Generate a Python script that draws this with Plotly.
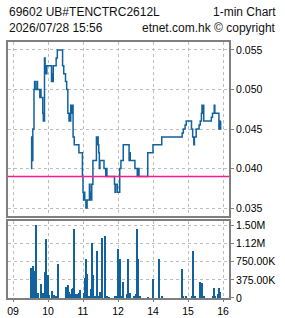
import plotly.graph_objects as go

DATE = "2026-07-28"
TITLE_LEFT = "69602 UB#TENCTRC2612L"
TITLE_RIGHT = "1-min Chart"
STAMP = "2026/07/28 15:56"
COPY = "etnet.com.hk © copyright"

price_times = [
    "09:31", "09:32", "09:33", "09:34", "09:36", "09:37", "09:38", "09:41", "09:42", "09:46",
    "09:47", "09:48", "09:51", "09:52", "09:54", "09:55", "09:56", "09:57", "09:58", "10:06",
    "10:07", "10:08", "10:09", "10:14", "10:16", "10:25", "10:27", "10:30", "10:32", "10:34",
    "10:36", "10:37", "10:38", "10:39", "10:41", "10:42", "10:43", "10:45", "10:53", "10:59",
    "11:00", "11:01", "11:02", "11:03", "11:05", "11:07", "11:11", "11:12", "11:13", "11:14",
    "11:15", "11:17", "11:23", "11:24", "11:25", "11:26", "11:27", "11:28", "11:29", "11:36",
    "11:39", "11:40", "11:41", "11:54", "11:55", "11:56", "11:59",
    "13:03", "13:05", "13:09", "13:19", "13:20", "13:21", "13:29", "13:33", "13:34", "13:36",
    "13:51", "14:00", "14:15", "14:50", "14:52", "14:55", "14:57", "15:06", "15:08", "15:10",
    "15:11", "15:14", "15:19", "15:21", "15:23", "15:24", "15:25", "15:26", "15:27", "15:40",
    "15:42", "15:45", "15:46", "15:53", "15:54", "15:55", "15:56",
]
price_values = [
    0.040, 0.044, 0.041, 0.045, 0.050, 0.051, 0.050, 0.051, 0.050, 0.049,
    0.050, 0.049, 0.047, 0.046, 0.054, 0.052, 0.053, 0.052, 0.053, 0.051,
    0.052, 0.051, 0.053, 0.054, 0.055, 0.053, 0.052, 0.051, 0.050, 0.047,
    0.046, 0.047, 0.046, 0.048, 0.047, 0.048, 0.044, 0.043, 0.042, 0.039,
    0.037, 0.036, 0.037, 0.036, 0.035, 0.036, 0.038, 0.036, 0.037, 0.036,
    0.038, 0.041, 0.044, 0.043, 0.044, 0.043, 0.042, 0.040, 0.041, 0.040,
    0.039, 0.040, 0.039, 0.038, 0.037, 0.038, 0.037,
    0.040, 0.041, 0.043, 0.041, 0.042, 0.041, 0.040, 0.039, 0.040, 0.039,
    0.042, 0.043, 0.044, 0.0445, 0.045, 0.0455, 0.046, 0.045, 0.044, 0.043,
    0.044, 0.045, 0.0455, 0.046, 0.047, 0.048, 0.047, 0.048, 0.046, 0.0465,
    0.047, 0.048, 0.047, 0.045, 0.046, 0.045, 0.046,
]

vol_times = [
    "09:31", "09:33", "09:34", "09:36", "09:38", "09:40", "09:42", "09:43", "09:48", "09:52",
    "09:55", "09:57", "09:58", "10:00", "10:02", "10:07", "10:11", "10:13", "10:15", "10:18",
    "10:31", "10:35", "10:37", "10:39", "10:41", "10:43", "10:45", "10:48", "10:51", "10:54",
    "10:55", "11:02", "11:04", "11:05", "11:07", "11:09", "11:12", "11:14", "11:16", "11:18",
    "11:21", "11:24", "11:26", "11:29", "11:33", "11:38", "11:42", "11:45", "11:55", "11:58",
    "13:01", "13:04", "13:06", "13:09", "13:15", "13:17", "13:19", "13:21", "13:28", "13:31",
    "13:33", "13:35", "13:38", "13:52", "14:00", "14:11", "14:16", "14:50", "14:52", "14:57",
    "15:07", "15:09", "15:11", "15:13", "15:21", "15:24", "15:27", "15:43", "15:45", "15:47",
    "15:52", "15:54", "15:55",
]
vol_values = [
    622000, 159000, 657000, 553000, 160000, 1500000, 20000, 104000, 297000, 110000,
    539000, 1220000, 55000, 470000, 55000, 138000, 55000, 41000, 35000, 698000,
    221000, 276000, 118000, 76000, 187000, 200000, 1420000, 90000, 83000, 110000,
    159000, 110000, 415000, 809000, 505000, 35000, 35000, 180000, 1130000, 470000,
    35000, 975000, 35000, 125000, 1240000, 1280000, 35000, 14000, 35000, 35000,
    1020000, 802000, 21000, 325000, 90000, 802000, 35000, 97000, 41000, 83000,
    1420000, 802000, 21000, 14000, 401000, 802000, 35000, 594000, 21000, 35000,
    21000, 968000, 35000, 35000, 325000, 304000, 21000, 35000, 207000, 21000,
    76000, 207000, 118000,
]

price_ticks = [0.035, 0.040, 0.045, 0.050, 0.055]
price_ticktext = ["0.035", "0.040", "0.045", "0.050", "0.055"]
vol_ticks = [0, 375000, 750000, 1125000, 1500000]
vol_ticktext = ["0", "375.00K", "750.00K", "1.12M", "1.50M"]
# the lunch break is cut out of the axis, so the "12" tick sits where 13:00 resumes
hour_ticks = ["09:00", "10:00", "11:00", "13:00", "14:00", "15:00", "16:00"]
hour_ticktext = ["09", "10", "11", "12", "14", "15", "16"]
prev_close = 0.039

BLUE = "#11629f"
PINK = "#ff1a8c"
FRAME = "#7f7f7f"
GRID = "#bdbdbd"
FONT = "Liberation Sans"

def stamp(t):
    return f"{DATE} {t}"

fig = go.Figure()
fig.add_trace(go.Scatter(
    x=[stamp(t) for t in price_times], y=price_values, mode="lines",
    line=dict(shape="hv", color=BLUE, width=1.5), xaxis="x", yaxis="y",
    showlegend=False, hoverinfo="skip"))
fig.add_trace(go.Bar(
    x=[stamp(t) for t in vol_times], y=vol_values, width=130000,
    marker=dict(color=BLUE, line=dict(width=0)), xaxis="x2", yaxis="y2",
    showlegend=False, hoverinfo="skip"))

fig.add_shape(type="line", xref="x domain", yref="y", x0=0, x1=1,
              y0=prev_close, y1=prev_close, line=dict(color=PINK, width=1.5))

xrange = [f"{DATE} 08:51:26", f"{DATE} 16:10:17"]
common_x = dict(
    type="date", range=xrange, automargin=False,
    rangebreaks=[dict(bounds=[12, 13], pattern="hour")],
    tickvals=[stamp(t) for t in hour_ticks], ticktext=hour_ticktext,
    showgrid=True, gridcolor=GRID, griddash="3px,3px", gridwidth=1,
    showline=True, mirror=True, linecolor=FRAME, linewidth=2,
    zeroline=False, tickfont=dict(family=FONT, size=10.5, color="#000"),
)
common_y = dict(
    side="right", showgrid=True, gridcolor=GRID, griddash="3px,3px", gridwidth=1,
    showline=True, mirror=True, linecolor=FRAME, linewidth=2, zeroline=False,
    automargin=False, ticks="outside", ticklen=3, tickcolor=FRAME,
    tickfont=dict(family=FONT, size=10.5, color="#000"),
)

fig.update_layout(
    width=285, height=318,
    margin=dict(l=8, r=56, t=42, b=20, autoexpand=False),
    paper_bgcolor="white", plot_bgcolor="white",
    bargap=0,
    xaxis=dict(common_x, domain=[0, 1], anchor="y", showticklabels=False, ticks=""),
    xaxis2=dict(common_x, domain=[0, 1], anchor="y2", matches="x",
                ticks="outside", ticklen=2, tickcolor=FRAME),
    yaxis=dict(common_y, domain=[0.3203, 1], anchor="x", range=[0.03399, 0.05601],
               tickvals=price_ticks, ticktext=price_ticktext),
    yaxis2=dict(common_y, domain=[0, 0.3008], anchor="x2", range=[0, 1589000],
                tickvals=vol_ticks, ticktext=vol_ticktext),
)

def header(text, x, y, anchor):
    fig.add_annotation(text=text, xref="paper", yref="paper", x=x, y=y,
                       xanchor=anchor, yanchor="middle", showarrow=False,
                       font=dict(family=FONT, size=12, color="#111"))

header(TITLE_LEFT, -0.005, 1.1184, "left")
header(TITLE_RIGHT, 1.2217, 1.1184, "right")
header(STAMP, -0.005, 1.0547, "left")
header(COPY, 1.2217, 1.0547, "right")

fig.write_html("out.html", config={"displayModeBar": False})
